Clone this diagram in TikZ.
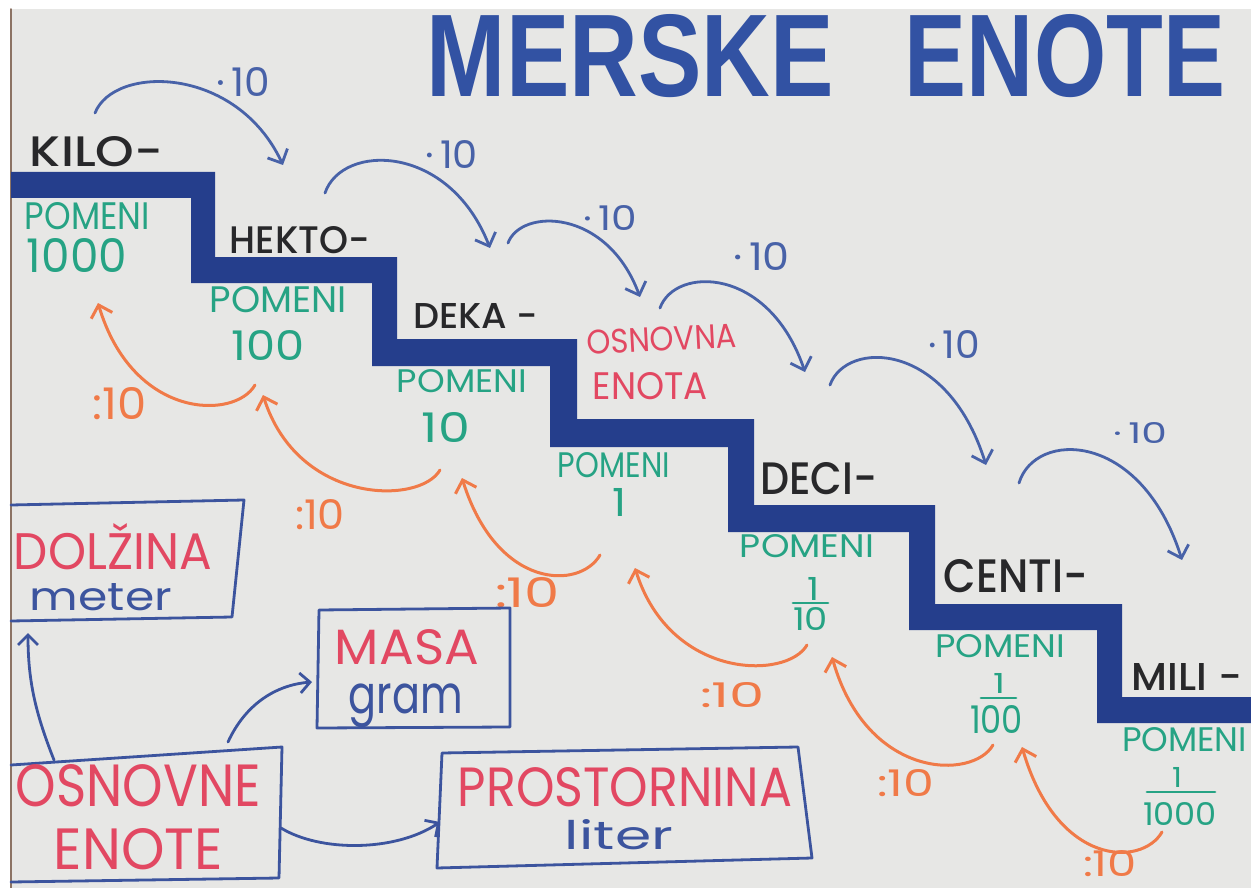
\documentclass[tikz,border=0pt]{standalone}
\usepackage{fontspec}
\setmainfont{Poppins}
\newfontfamily\hand{Poppins}
\newfontfamily\handm{Poppins Medium}
\newfontfamily\titlef{Liberation Sans}
\usetikzlibrary{arrows.meta}
\newcommand{\fbx}[3]{\resizebox{#1pt}{#2pt}{#3}}
\newcommand{\fbt}[3]{\resizebox*{#1pt}{#2pt}{#3}}
\definecolor{paper}{RGB}{231,231,229}
\definecolor{stair}{RGB}{37,62,140}
\definecolor{ttl}{RGB}{50,82,163}
\definecolor{penblue}{RGB}{72,98,168}
\definecolor{boxblue}{RGB}{60,84,158}
\definecolor{ink}{RGB}{40,40,42}
\definecolor{grn}{RGB}{38,163,132}
\definecolor{org}{RGB}{240,122,72}
\definecolor{rd}{RGB}{226,72,98}
\definecolor{edgec}{RGB}{140,115,100}
\tikzset{
  every node/.style={inner sep=0pt,outer sep=0pt},
  blk/.style={text=ink,font=\handm},
  grnt/.style={text=grn,font=\hand},
  redt/.style={text=rd,font=\hand},
  blut/.style={text=boxblue,font=\hand},
  mult/.style={text=penblue,font=\hand},
  divt/.style={text=org,font=\hand},
  mularr/.style={draw=penblue,line width=2.8pt,-{Straight Barb[length=11pt,width=22pt]}},
  divarr/.style={draw=org,line width=3pt,-{Straight Barb[length=11pt,width=22pt]}},
  boxline/.style={draw=boxblue,line width=2.8pt},
  linkarr/.style={draw=boxblue,line width=2.8pt,-{Straight Barb[length=10pt,width=20pt]}},
  fracbar/.style={draw=grn,line width=2.8pt}
}
\begin{document}
\begin{tikzpicture}[x=1pt,y=-1pt,line cap=round,line join=round]
\useasboundingbox (0,0) rectangle (1251,888);
% paper
\fill[white] (0,0) rectangle (1251,888);
\fill[paper] (11,9) rectangle (1251,888);
\draw[edgec,line width=1.5pt] (11,9) -- (11,888);
% staircase
\fill[stair] (11,172) -- (215,172) -- (215,257) -- (397,257) -- (397,339) -- (577,339)
  -- (577,419) -- (754,419) -- (754,505) -- (935,505) -- (935,604) -- (1122,604)
  -- (1122,697) -- (1251,697) -- (1251,723) -- (1097,723) -- (1097,630) -- (909,630)
  -- (909,532) -- (728,532) -- (728,447) -- (550,447) -- (550,366) -- (372,366)
  -- (372,283) -- (191,283) -- (191,198) -- (11,198) -- cycle;
% title
\node[text=ttl,font=\titlef\bfseries] (title1) at (630.5,56) {\fbx{407}{82}{MERSKE}};
\node[text=ttl,font=\titlef\bfseries] (title2) at (1065,56) {\fbx{320}{82}{ENOTE}};
% prefixes
\node[blk] (kilo) at (96.5,152) {\fbx{133}{30}{KILO-}};
\node[blk] (hekto) at (300,240.5) {\fbx{140}{27}{HEKTO-}};
\node[blk] (deka) at (475.5,315.5) {\fbx{125}{25}{DEKA -}};
\node[redt,rotate=3] (osnovna) at (662,339) {\fbx{150}{24}{OSNOVNA}};
\node[redt] (enota) at (650.5,386.5) {\fbx{115}{27}{ENOTA}};
\node[blk] (deci) at (818.5,479) {\fbx{117}{32}{DECI-}};
\node[blk] (centi) at (1016,576.5) {\fbx{144}{33}{CENTI-}};
\node[blk] (mili) at (1187,676.5) {\fbx{110}{27}{MILI -}};
% meanings
\node[grnt] (pom1) at (87.5,216.5) {\fbx{125}{27}{POMENI}};
\node[grnt] (v1000) at (77,255) {\fbx{100}{34}{1000}};
\node[grnt] (pom2) at (278.5,300) {\fbx{137}{26}{POMENI}};
\node[grnt] (v100) at (268.5,345) {\fbx{73}{30}{100}};
\node[grnt] (pom3) at (462,381.5) {\fbx{130}{23}{POMENI}};
\node[grnt] (v10) at (446,427) {\fbx{48}{30}{10}};
\node[grnt] (pom4) at (614,465.5) {\fbx{112}{25}{POMENI}};
\node[grnt] (v1) at (619,502) {\fbx{14}{28}{1}};
\node[grnt] (pom5) at (807,546.5) {\fbx{134}{23}{POMENI}};
\node[grnt] (n10) at (813,588.5) {\fbx{12}{23}{1}};
\node[grnt] (d10) at (810.5,618.5) {\fbx{35}{23}{10}};
\coordinate (b10l) at (793,603); \coordinate (b10r) at (828,603);
\draw[fracbar] (b10l) -- (b10r);
\node[grnt] (pom6) at (1000,646.5) {\fbx{130}{23}{POMENI}};
\node[grnt] (n100) at (999,683) {\fbx{12}{20}{1}};
\node[grnt] (d100) at (996.5,719) {\fbx{53}{28}{100}};
\coordinate (b100l) at (981,698); \coordinate (b100r) at (1016,698);
\draw[fracbar] (b100l) -- (b100r);
\node[grnt] (pom7) at (1184.5,740) {\fbx{125}{24}{POMENI}};
\node[grnt] (n1000) at (1177,777) {\fbx{10}{20}{1}};
\node[grnt] (d1000) at (1180,813.5) {\fbx{74}{23}{1000}};
\coordinate (b1000l) at (1147,792); \coordinate (b1000r) at (1215,792);
\draw[fracbar] (b1000l) -- (b1000r);
% multiply labels
\node[mult] (m1) at (243,82.5) {\fbx{54}{29}{·\,10}};
\node[mult] (m2) at (451.5,154) {\fbx{53}{28}{·\,10}};
\node[mult] (m3) at (610,217.5) {\fbx{54}{25}{·\,10}};
\node[mult] (m4) at (761.5,256) {\fbx{57}{28}{·\,10}};
\node[mult] (m5) at (954,344) {\fbx{52}{28}{·\,10}};
\node[mult] (m6) at (1140,432.5) {\fbx{54}{21}{·\,10}};
% divide labels
\node[divt] (q1) at (120,404) {\fbx{54}{32}{:10}};
\node[divt] (q2) at (320,515) {\fbx{50}{30}{:10}};
\node[divt] (q3) at (527.5,593) {\fbx{65}{30}{:10}};
\node[divt] (q4) at (732.5,695.5) {\fbx{65}{25}{:10}};
\node[divt] (q5) at (905.5,783.5) {\fbx{57}{27}{:10}};
\node[divt] (q6) at (1110,864) {\fbx{54}{26}{:10}};
% multiply arrows
\coordinate (ms1) at (95,113);   \coordinate (me1) at (283,165);
\coordinate (ms2) at (325,193);  \coordinate (me2) at (490,248);
\coordinate (ms3) at (508,243);  \coordinate (me3) at (640,297);
\coordinate (ms4) at (660,308);  \coordinate (me4) at (805,372);
\coordinate (ms5) at (830,385);  \coordinate (me5) at (986,465);
\coordinate (ms6) at (1019,483); \coordinate (me6) at (1182,560);
\draw[mularr] (ms1) .. controls (114,65) and (236,65) .. (me1);
\draw[mularr] (ms2) .. controls (342,143) and (449,143) .. (me2);
\draw[mularr] (ms3) .. controls (521,208) and (607,208) .. (me3);
\draw[mularr] (ms4) .. controls (675,266) and (769,266) .. (me4);
\draw[mularr] (ms5) .. controls (846,340) and (947,340) .. (me5);
\draw[mularr] (ms6) .. controls (1035,430) and (1141,430) .. (me6);
% divide arrows
\coordinate (ds1) at (255,385);  \coordinate (de1) at (98,303);
\coordinate (ds2) at (440,470);  \coordinate (de2) at (263,395);
\coordinate (ds3) at (600,555);  \coordinate (de3) at (462,478);
\coordinate (ds4) at (807,645);  \coordinate (de4) at (635,568);
\coordinate (ds5) at (993,745);  \coordinate (de5) at (832,657);
\coordinate (ds6) at (1162,832); \coordinate (de6) at (1022,747);
\draw[divarr] (ds1) .. controls (235,420) and (133,420) .. (de1);
\draw[divarr] (ds2) .. controls (420,505) and (298,505) .. (de2);
\draw[divarr] (ds3) .. controls (580,590) and (497,590) .. (de3);
\draw[divarr] (ds4) .. controls (787,680) and (670,680) .. (de4);
\draw[divarr] (ds5) .. controls (973,780) and (867,780) .. (de5);
\draw[divarr] (ds6) .. controls (1142,867) and (1057,867) .. (de6);
% boxes
\draw[boxline] (11,505) -- (244,500) -- (232,617) -- (11,621);
\draw[boxline] (319,610) -- (510,608) -- (510,727) -- (317,728) -- cycle;
\draw[boxline] (11,765) -- (282,747) -- (279,878) -- (11,882);
\draw[boxline] (442,753) -- (798,747) -- (812,858) -- (437,868) -- cycle;
\node[redt] (dolzina) at (113,547) {\fbx{198}{46}{DOLŽINA}};
\node[blut] (meter) at (101,597) {\fbx{142}{27}{meter}};
\node[redt] (masa) at (407,647.5) {\fbx{144}{35}{MASA}};
\node[blut] (gram) at (406,706) {\fbt{114}{44}{gram}};
\node[redt] (osnovne) at (138.5,786) {\fbx{245}{42}{OSNOVNE}};
\node[redt] (enote) at (138.5,849) {\fbx{169}{41}{ENOTE}};
\node[redt] (prostornina) at (625,787) {\fbx{334}{39}{PROSTORNINA}};
\node[blut] (liter) at (619,835) {\fbx{108}{30}{liter}};
% links
\coordinate (lkA) at (54,760);  \coordinate (lkAe) at (28,633);
\coordinate (lkB) at (228,742); \coordinate (lkBe) at (312,682);
\coordinate (lkC) at (281,828); \coordinate (lkCe) at (440,822);
\draw[linkarr] (lkA) .. controls (35,712) and (28,680) .. (lkAe);
\draw[linkarr] (lkB) .. controls (245,705) and (275,685) .. (lkBe);
\draw[linkarr] (lkC) .. controls (320,852) and (395,852) .. (lkCe);
\end{tikzpicture}
\end{document}
